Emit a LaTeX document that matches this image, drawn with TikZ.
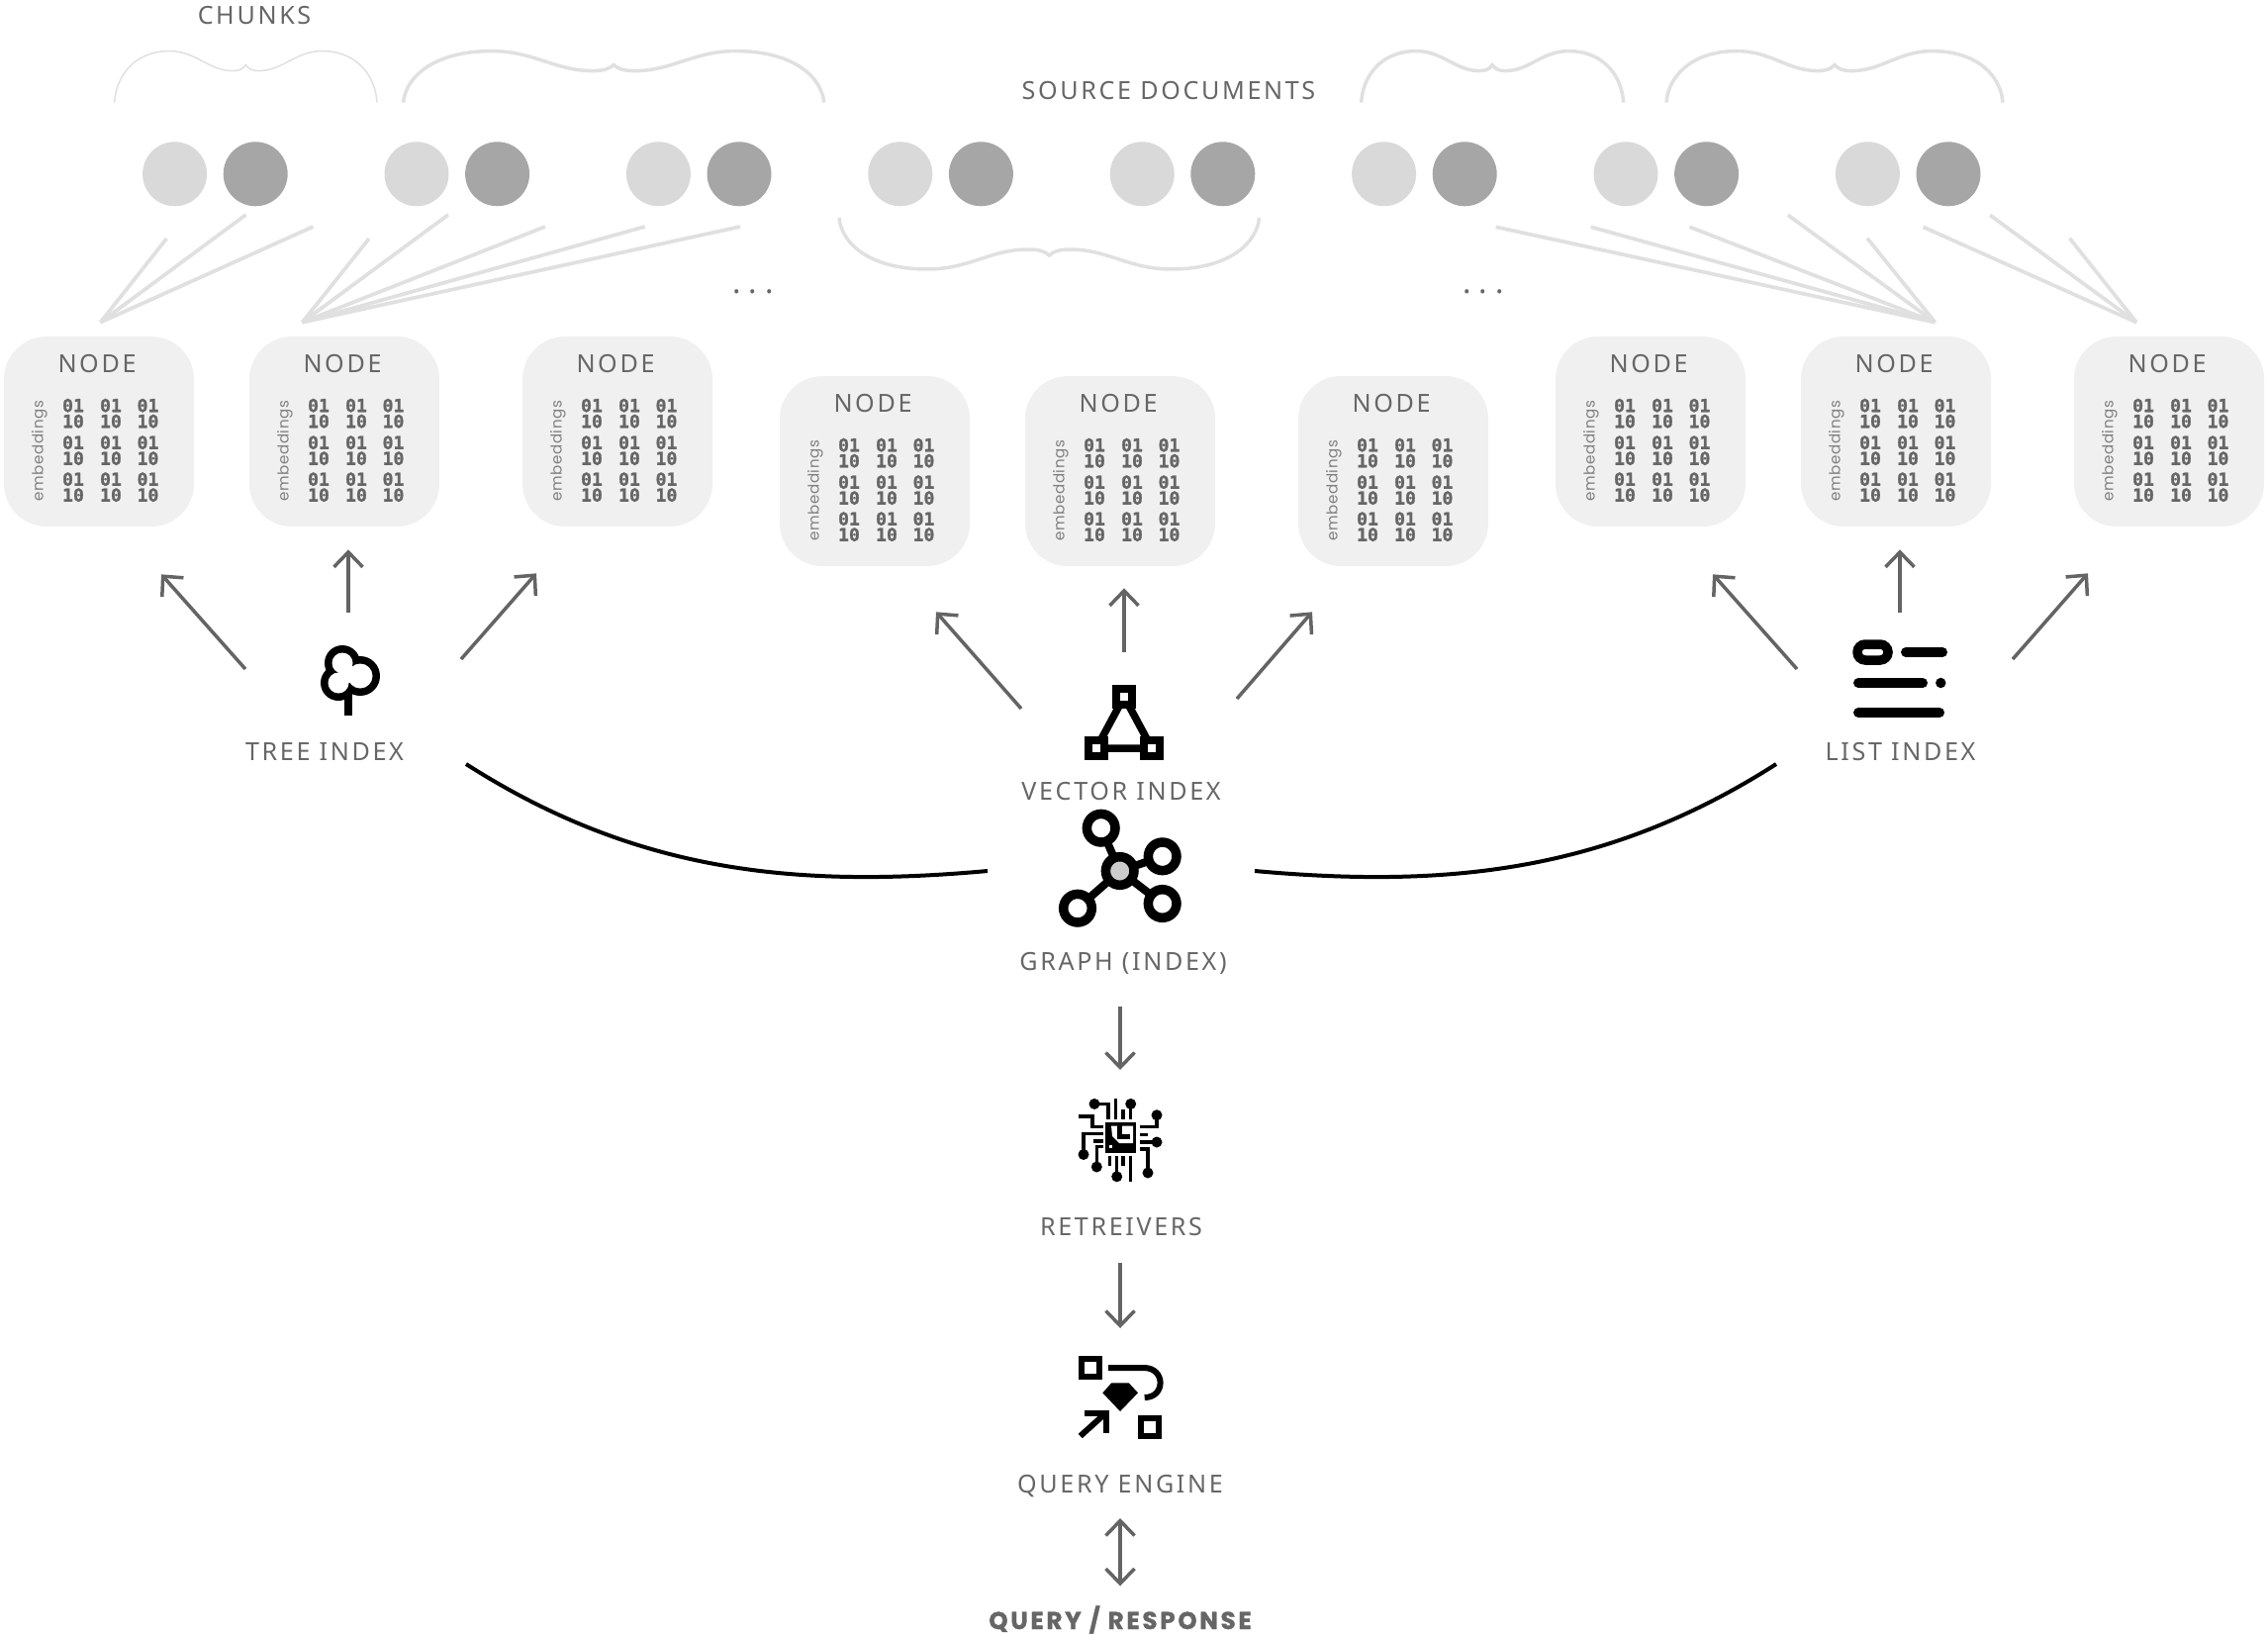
\documentclass[tikz,border=0pt]{standalone}
\usepackage{fontspec}
\setmainfont{Noto Sans}
\newfontfamily\labelfont{Noto Sans}[LetterSpace=10.5]
\newfontfamily\dotsfont{Noto Sans}[LetterSpace=26]
\newfontfamily\embedfont{Poppins}[LetterSpace=4]
\newfontfamily\binfont{DejaVu Sans Mono}[BoldFeatures={FakeBold=1.2}]
\newfontfamily\queryfont{Poppins}[LetterSpace=11, BoldFeatures={FakeBold=1.2}]
\usepackage{xcolor}
\definecolor{textgrey}{RGB}{102,102,102}
\definecolor{arrowgrey}{RGB}{100,100,100}
\definecolor{boxgrey}{RGB}{240,240,240}
\definecolor{fangrey}{RGB}{224,224,224}
\definecolor{lightdisc}{RGB}{217,217,217}
\definecolor{darkdisc}{RGB}{166,166,166}
\usetikzlibrary{
  arrows.meta,
  calc
}
\tikzset{
  nodebox/.style={fill=boxgrey, rounded corners=0.86cm,
    minimum size=3.84cm, inner sep=0pt},
  lbl/.style={font=\labelfont\fontsize{14.3}{17}\selectfont, text=textgrey, inner sep=0pt,
    text height=0.36cm, text depth=0pt},
  moredots/.style={font=\dotsfont\bfseries\fontsize{18}{20}\selectfont, text=textgrey, inner sep=0pt,
    text height=0.36cm, text depth=0pt},
  binbox/.style={font=\binfont\bfseries\fontsize{10.3}{9.1}\selectfont, text=textgrey,
    align=center, inner sep=0pt},
  embedtext/.style={font=\embedfont\fontsize{8.6}{10}\selectfont, text=black!50,
    rotate=90, inner sep=0pt},
  lightdot/.style={circle, fill=lightdisc, minimum size=1.3cm, inner sep=0pt},
  darkdot/.style={circle, fill=darkdisc, minimum size=1.3cm, inner sep=0pt},
  arr/.style={-{Straight Barb[length=0.3cm, width=0.58cm]}, line width=0.07cm, arrowgrey},
  biarr/.style={{Straight Barb[length=0.3cm, width=0.58cm]}-{Straight Barb[length=0.3cm, width=0.58cm]},
    line width=0.07cm, arrowgrey},
  fanline/.style={line width=0.075cm, fangrey},
  bracket/.style={line width=0.07cm, fangrey},
  linkline/.style={line width=0.16cm, black},
  iconline/.style={line width=0.15cm, black},
  traceline/.style={line width=0.065cm, black},
}
% name, centre x, top y
\newcommand{\embednode}[3]{
  \node[nodebox] (#1) at (#2,#3+96) {};
  \node[lbl] (#1-title) at ($(#1.north)+(-2,28)$) {NODE};
  \node[embedtext] (#1-emb) at ($(#1.north)+(-60,116)$) {embeddings};
  \foreach \row/\ry in {a/78,b/115.5,c/152.5}
    \foreach \col/\cx in {a/-26,b/12,c/49.5}
      \node[binbox] (#1-\row\col) at ($(#1.north)+(\cx,\ry)$) {01\\10};
}
% left x, width, base y, vertical scale
\newcommand{\chunkbrace}[5][]{
  \begin{scope}[shift={(#2,#4)}, xscale=#3, yscale=#5]
    \draw[bracket, #1] (0,0) .. controls (0.005,-25) and (0.07,-52) .. (0.21,-52)
      .. controls (0.31,-52) and (0.36,-32) .. (0.45,-32)
      .. controls (0.475,-32) and (0.49,-34) .. (0.5,-38)
      .. controls (0.51,-34) and (0.525,-32) .. (0.55,-32)
      .. controls (0.64,-32) and (0.69,-52) .. (0.79,-52)
      .. controls (0.93,-52) and (0.995,-25) .. (1,0);
  \end{scope}
}
\begin{document}
\begin{tikzpicture}[x=0.02cm, y=-0.02cm]
  \useasboundingbox (0,0) rectangle (2292,1652);

  % Titles
  \node[lbl] (chunks) at (257,16) {CHUNKS};
  \node[lbl] (sources) at (1181,92) {SOURCE DOCUMENTS};

  % Chunk braces
  \chunkbrace[line width=0.03cm]{115.7}{265.3}{103.6}{1}
  \chunkbrace{407.6}{425.1}{103.6}{1}
  \chunkbrace{848}{424.5}{220}{-1}
  \chunkbrace{1375.7}{264.9}{103.6}{1}
  \chunkbrace{1684}{340}{103.6}{1}

  % Chunk discs
  \foreach \i in {0,...,7} {
    \node[lightdot] (lt\i) at ({176.6+244.4*\i},175.8) {};
    \node[darkdot] (dk\i) at ({258.2+244.4*\i},175.8) {};
  }

  % Nodes
  \embednode{n1}{100}{340}
  \embednode{n2}{348}{340}
  \embednode{n3}{624}{340}
  \embednode{n4}{884}{380}
  \embednode{n5}{1132}{380}
  \embednode{n6}{1408}{380}
  \embednode{n7}{1668}{340}
  \embednode{n8}{1916}{340}
  \embednode{n9}{2192}{340}

  % Fan lines
  \coordinate (fan1) at ($(n1.north)+(1.5,-14)$);
  \coordinate (fan2) at ($(n2.north)+(-42.5,-14)$);
  \coordinate (fan3) at ($(n8.north)+(39.5,-14)$);
  \coordinate (fan4) at ($(n9.north)+(-33,-14)$);
  \foreach \sx/\sy [count=\k] in {168.4/241,248.5/217,316.5/229} {
    \coordinate (sa\k) at (\sx,\sy);
    \draw[fanline] (sa\k) -- (fan1);
  }
  \foreach \sx/\sy [count=\k] in {373/241,453/217,551/229,651.7/229,748/229} {
    \coordinate (sb\k) at (\sx,\sy);
    \draw[fanline] (sb\k) -- (fan2);
  }
  \foreach \sx/\sy [count=\k] in {1511.7/229.3,1607.7/229.3,1707.5/229.3,1806.8/217.3,1887/240.7} {
    \coordinate (sc\k) at (\sx,\sy);
    \draw[fanline] (sc\k) -- (fan3);
  }
  \foreach \sx/\sy [count=\k] in {1943.4/229.3,2011/217.3,2091.5/240.7} {
    \coordinate (sd\k) at (\sx,\sy);
    \draw[fanline] (sd\k) -- (fan4);
  }

  % Ellipses
  \node[moredots] (moreleft) at (761,288) {...};
  \node[moredots] (moreright) at (1499,288) {...};

  % Index labels
  \node[lbl] (treelabel) at (328,759) {TREE INDEX};
  \node[lbl] (vectorlabel) at (1133,799) {VECTOR INDEX};
  \node[lbl] (listlabel) at (1920.5,759) {LIST INDEX};
  \node[lbl] (graphlabel) at (1135,971.5) {GRAPH (INDEX)};
  \node[lbl] (retrlabel) at (1133,1239.5) {RETREIVERS};
  \node[lbl] (enginelabel) at (1132,1499) {QUERY ENGINE};
  \node[font=\queryfont\bfseries\fontsize{14}{16}\selectfont, text=textgrey, inner sep=0pt,
    text height=0.34cm, text depth=0pt]
    (querylabel) at (1132,1637.5) {QUERY / RESPONSE};

  % Arrows up to the nodes
  \foreach \lab/\tgt/\sx/\sy/\tx/\ty in {
    treelabel/n1/-80/-83/63/48, treelabel/n2/24/-140/4/23, treelabel/n3/138/-93/-82/47,
    vectorlabel/n4/-101/-83/62/46, vectorlabel/n5/3/-140/4/22, vectorlabel/n6/117/-93/-82/46,
    listlabel/n7/-104.5/-83/63/48, listlabel/n8/-0.5/-140/4/23, listlabel/n9/113.5/-93/-82/47}
    \draw[arr] ($(\lab)+(\sx,\sy)$) -- ($(\tgt.south)+(\tx,\ty)$);

  % Tree icon
  \coordinate (treeicon) at (352,680);
  \draw[line width=0.16cm, black] ($(treeicon)+(0,20)$) -- ++(0,23);
  \foreach \dx/\dy/\rr in {-10/10/18,-6/-10/18,12/3/20}
    \fill[black] ($(treeicon)+(\dx,\dy)$) circle (\rr);
  \foreach \dx/\dy/\rr in {-10/10/10.5,-6/-10/10.5,12/3/12.5,0/1/9}
    \fill[white] ($(treeicon)+(\dx,\dy)$) circle (\rr);

  % Vector icon
  \coordinate (vectoricon) at (1136,730);
  \draw[iconline] ($(vectoricon)+(0,-26)$) -- ($(vectoricon)+(-28,26)$) -- ($(vectoricon)+(28,26)$) -- cycle;
  \foreach \dx/\dy in {0/-26,-28/26,28/26}
    \filldraw[line width=0.16cm, black, fill=white] ($(vectoricon)+(\dx-8,\dy-8)$) rectangle ++(16,16);

  % List icon
  \coordinate (listicon) at (1920,683);
  \draw[line width=0.19cm, black, rounded corners=0.16cm]
    ($(listicon)+(-43,-32)$) rectangle ($(listicon)+(-12,-16)$);
  \draw[line width=0.2cm, black, line cap=round] ($(listicon)+(6,-24)$) -- ($(listicon)+(43,-24)$);
  \draw[line width=0.2cm, black, line cap=round] ($(listicon)+(-42,7)$) -- ($(listicon)+(23,7)$);
  \fill[black] ($(listicon)+(41.3,7)$) circle (5.2);
  \draw[line width=0.2cm, black, line cap=round] ($(listicon)+(-42,37)$) -- ($(listicon)+(40,37)$);

  % Graph icon
  \coordinate (graphicon) at (1131.7,880);
  \draw[linkline] (graphicon) -- (1112.7,836.7);
  \draw[linkline] (graphicon) -- (1174.7,865.3);
  \draw[linkline] (graphicon) -- (1174.7,913);
  \draw[linkline] (graphicon) -- (1089,917.7);
  \foreach \gx/\gy in {1112.7/836.7,1174.7/865.3,1174.7/913,1089/917.7}
    \filldraw[line width=0.19cm, black, fill=white] (\gx,\gy) circle (14.3);
  \filldraw[line width=0.19cm, black, fill=black!20] (graphicon) circle (14.3);

  % Curves into the graph
  \draw[line width=0.08cm, black] ($(treelabel)+(143,13)$) .. controls (640,880) and (800,898) .. ($(graphicon)+(-133.7,0)$);
  \draw[line width=0.08cm, black] ($(graphicon)+(136.3,0)$) .. controls (1466,898) and (1626,880) .. ($(listlabel)+(-125.5,13)$);

  % Retriever icon
  \coordinate (retricon) at (1132,1152);
  \fill[black] (1117,1134) rectangle (1148,1165);
  \fill[white] (1123,1137.5) -- (1145,1137.5) -- (1145,1155) -- (1131,1155) -- (1124,1148) -- cycle;
  \draw[line width=0.1cm, black] (1131,1137) -- (1131,1148) -- (1142,1148);
  \fill[white] (1121,1157) rectangle (1124,1160);
  \foreach \dx/\dy in {1106/1115.4,1142.7/1115.4,1169/1126.7,1169/1154,1160/1185,1128.7/1188.8,1108.3/1179,1095/1166.5}
    \fill[black] (\dx,\dy) circle (5.5);
  \draw[traceline] (1106,1115.4) -- (1120,1115.4) -- (1120,1131);
  \draw[traceline] (1127.3,1110) -- (1127.3,1131);
  \draw[traceline] (1135,1121) -- (1135,1131);
  \draw[traceline] (1142.7,1115.4) -- (1142.7,1131);
  \draw[traceline] (1169,1126.7) -- (1169,1138.4) -- (1151.7,1138.4);
  \draw[traceline] (1151.7,1146.4) -- (1160,1146.4);
  \draw[traceline] (1169,1154) -- (1151.7,1154);
  \draw[traceline] (1151.7,1161) -- (1160,1161) -- (1160,1185);
  \draw[traceline] (1128.7,1188.8) -- (1128.7,1167.6);
  \draw[traceline] (1142.7,1167.6) -- (1142.7,1194);
  \draw[traceline] (1135,1167.6) -- (1135,1178);
  \draw[traceline] (1121.7,1167.6) -- (1121.7,1178);
  \draw[traceline] (1108.3,1179) -- (1108.3,1158.5) -- (1115,1158.5);
  \draw[traceline] (1105,1153) -- (1115,1153);
  \draw[traceline] (1095,1166.5) -- (1095,1145.7) -- (1115,1145.7);
  \draw[traceline] (1090,1128) -- (1104,1128) -- (1104,1138.4) -- (1115,1138.4);

  % Engine icon
  \coordinate (engineicon) at (1132,1412);
  \draw[line width=0.11cm, black] (1093,1373) rectangle (1111,1391);
  \draw[line width=0.11cm, black] (1153,1433) rectangle (1171,1451);
  \draw[line width=0.12cm, black] (1120,1382) -- (1156,1382) .. controls (1178,1382) and (1178,1412) .. (1156.7,1412);
  \fill[black] (1114.3,1407.3) -- (1123.3,1397.3) -- (1140.7,1397.3) -- (1150,1407.3) -- (1132,1426) -- cycle;
  \draw[line width=0.12cm, black] (1091.7,1451) -- (1118.3,1427);
  \draw[line width=0.12cm, black] (1096,1427.5) -- (1118,1427.5) -- (1118,1448);

  % Arrows down the stack
  \draw[arr] ($(graphlabel)+(-3,45)$) -- ($(retricon)+(0,-71)$);
  \draw[arr] ($(retrlabel)+(-1,36.5)$) -- ($(engineicon)+(0,-70)$);
  \draw[biarr] ($(enginelabel)+(0,35)$) -- ($(querylabel)+(0,-35)$);
\end{tikzpicture}
\end{document}
